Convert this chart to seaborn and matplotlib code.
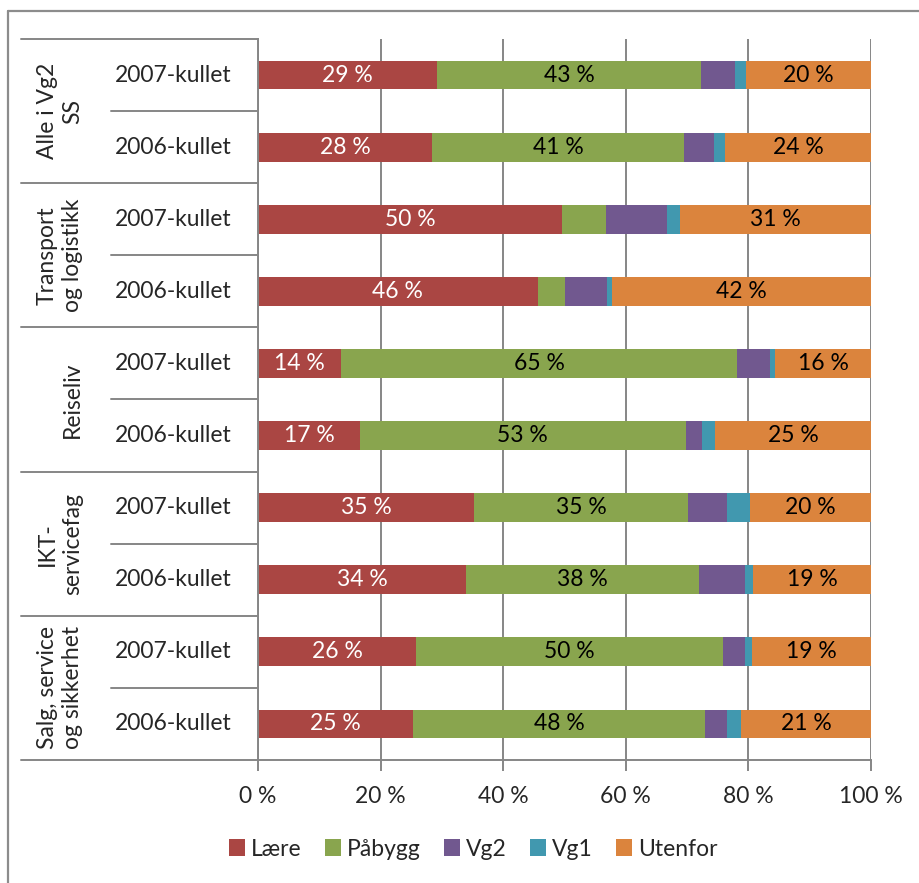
import matplotlib
matplotlib.use("Agg")
import matplotlib.pyplot as plt
import matplotlib.transforms as mtransforms
from matplotlib.lines import Line2D
from matplotlib.patches import Patch
import seaborn as sns
import numpy as np
import pandas as pd

# ---------------- data ----------------
groups = ["Alle i Vg2\nSS", "Transport\nog logistikk", "Reiseliv",
          "IKT-\nservicefag", "Salg, service\nog sikkerhet"]
cohorts = ["2007-kullet", "2006-kullet"]
series = ["Lære", "Påbygg", "Vg2", "Vg1", "Utenfor"]
colors = ["#AA4643", "#89A54E", "#71588F", "#4198AF", "#DB843D"]

laere   = [29.2, 28.4, 49.6, 45.6, 13.6, 16.6, 35.2, 33.9, 25.8, 25.3]
paabygg = [43.1, 41.1, 7.2, 4.4, 64.6, 53.2, 35.0, 38.0, 50.0, 47.6]
vg2     = [5.5, 4.9, 9.9, 7.0, 5.4, 2.6, 6.3, 7.6, 3.7, 3.6]
vg1     = [1.8, 1.8, 2.1, 0.8, 0.8, 2.2, 3.7, 1.3, 1.1, 2.3]
utenfor = [20.4, 23.8, 31.2, 42.2, 15.6, 25.4, 19.8, 19.2, 19.4, 21.2]

xticks = [0, 20, 40, 60, 80, 100]
xticklabels = ["0 %", "20 %", "40 %", "60 %", "80 %", "100 %"]

labelled = {"Lære": "white", "Påbygg": "black", "Utenfor": "black"}

# ---------------- build table ----------------
row_ids = [f"{g}|{c}" for g in groups for c in cohorts]
values = [laere, paabygg, vg2, vg1, utenfor]
df = pd.DataFrame({s: v for s, v in zip(series, values)})
df["row"] = row_ids
cum = df[series].cumsum(axis=1)
starts = cum - df[series]

# ---------------- style ----------------
sns.set_style("white")
plt.rcParams["font.family"] = ["Lato", "DejaVu Sans"]
FS = 16.5

W, H = 919, 883
fig = plt.figure(figsize=(W / 100, H / 100), dpi=100)
L, R, T, B = 258, 871, 39, 760
ax = fig.add_axes([L / W, 1 - B / H, (R - L) / W, (B - T) / H])

# stacked bars: draw cumulative totals from the last series down
for s, col in reversed(list(zip(series, colors))):
    sns.barplot(x=cum[s], y=df["row"], order=row_ids, orient="h",
                color=col, saturation=1, width=0.4, linewidth=0, ax=ax)

# data labels
for s in series:
    if s not in labelled:
        continue
    for i in range(len(row_ids)):
        v = df[s].iloc[i]
        if v < 10:
            continue
        ax.text(starts[s].iloc[i] + v / 2, i, f"{round(v)} %",
                ha="center", va="center", fontsize=FS, color=labelled[s])

grid_col = "#868686"
ax.set_xlim(0, 100)
ax.set_ylim(len(row_ids) - 0.5, -0.5)
ax.set_xticks(xticks)
ax.set_xticklabels(xticklabels, fontsize=FS)
ax.xaxis.grid(True, color=grid_col, lw=1.4)
ax.yaxis.grid(False)
ax.set_axisbelow(True)
ax.set_xlabel("")
ax.set_ylabel("")
ax.set_yticks(range(len(row_ids)))
ax.set_yticklabels([])
ax.tick_params(axis="y", length=0)
ax.tick_params(axis="x", length=8, width=1.4, color=grid_col, pad=11,
               bottom=True)
for sp in ["top", "right"]:
    ax.spines[sp].set_visible(False)
for sp in ["left", "bottom"]:
    ax.spines[sp].set_color(grid_col)
    ax.spines[sp].set_linewidth(1.4)

# multi-level category axis
trans = mtransforms.blended_transform_factory(ax.transAxes, ax.transData)
x_outer = (21 - L) / (R - L)
x_inner = (111 - L) / (R - L)
x_year = (173 - L) / (R - L)
x_group = (83 - L) / (R - L)
n = len(row_ids)
for k in range(n + 1):
    y = k - 0.5
    x0 = x_outer if k % 2 == 0 else x_inner
    ax.add_line(Line2D([x0, 0], [y, y], transform=trans, color=grid_col,
                       lw=1.4, clip_on=False))
for i, rid in enumerate(row_ids):
    ax.text(x_year, i, rid.split("|")[1], transform=trans, ha="center",
            va="center", fontsize=FS)
for gi, g in enumerate(groups):
    ax.text(x_group, 2 * gi + 0.5, g, transform=trans, rotation=90,
            ha="right", va="center", multialignment="center",
            fontsize=FS, linespacing=1.25)

# legend
handles = [Patch(facecolor=c, edgecolor="none") for c in colors]
fig.legend(handles, series, loc="center", bbox_to_anchor=(0.515, 1 - 849 / H),
           ncol=5, frameon=False, fontsize=FS, handlelength=0.7,
           handleheight=0.7, handletextpad=0.25, columnspacing=1.02)

# outer chart border (top and left visible)
bc = "#8c8c8c"
fig.add_artist(Line2D([8 / W, 1], [1 - 11 / H, 1 - 11 / H],
                      transform=fig.transFigure, color=bc, lw=1.6))
fig.add_artist(Line2D([8 / W, 8 / W], [0, 1 - 11 / H],
                      transform=fig.transFigure, color=bc, lw=1.6))

fig.savefig("out.png", dpi=100)
